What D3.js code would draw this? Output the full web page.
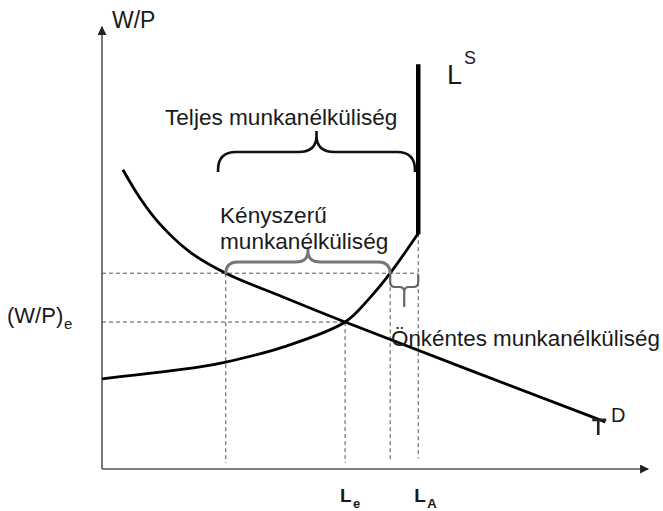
<!DOCTYPE html>
<html>
<head>
<meta charset="utf-8">
<script src="https://cdn.jsdelivr.net/npm/d3@7"></script>
<style>
  html, body { margin: 0; padding: 0; background: #fff; }
  svg { display: block; font-family: Arial, "Liberation Sans", sans-serif; }
</style>
</head>
<body>
<svg id="chart" width="663" height="511"></svg>
<script>
// Labour market: supply (L^S) and demand (L^D) for labour against the real wage W/P.
const supplyL = [0, 17.8, 22.5, 32.9, 44.2, 48.7, 52.4, 57.5];
const supplyW = [20.5, 23.2, 24.3, 27.7, 33.4, 38.9, 44.5, 53.6];
const supplyTopW = 92;          // vertical part of L^S at full labour force
const demandL = [3.8, 6.9, 10.5, 16.0, 22.5, 32.9, 44.2, 91.5];
const demandW = [68.0, 61.6, 55.7, 49.3, 44.5, 39.1, 33.4, 10.7];

const wageEq = 33.4;            // (W/P)e
const wageHigh = 44.5;          // wage above equilibrium
const Le = 44.2;                // equilibrium employment
const LA = 57.5;                // labour force
const Ldemand = 22.5;           // labour demanded at wageHigh
const Lsupply = 52.4;           // labour supplied at wageHigh
const bigBraceFrom = 21.1, bigBraceTo = 56.9;

const axisLabels = { y: "W/P", yEq: "(W/P)", yEqSub: "e", xEq: "L", xEqSub: "e", xA: "L", xASub: "A" };
const curveLabels = { supply: "L", supplySup: "S", demand: "D" };
const braceLabels = {
  total: "Teljes munkanélküliség",
  forced: ["Kényszerű", "munkanélküliség"],
  voluntary: "Önkéntes munkanélküliség"
};

const svg = d3.select("#chart");
const x = d3.scaleLinear().domain([0, 100]).range([102, 652]);
const y = d3.scaleLinear().domain([0, 100]).range([469, 29]);

// arrow heads
const defs = svg.append("defs");
defs.append("marker").attr("id", "arrow").attr("viewBox", "0 0 10 10")
  .attr("refX", 9).attr("refY", 5).attr("markerWidth", 9).attr("markerHeight", 9)
  .attr("markerUnits", "userSpaceOnUse").attr("orient", "auto")
  .append("path").attr("d", "M0,0 L10,5 L0,10 Z").attr("fill", "#222");

// axes
svg.append("line").attr("x1", x(0)).attr("y1", y(0)).attr("x2", x(0)).attr("y2", y(100.5))
  .attr("stroke", "#555").attr("stroke-width", 1.6).attr("marker-end", "url(#arrow)");
svg.append("line").attr("x1", x(0)).attr("y1", y(0)).attr("x2", x(99.3)).attr("y2", y(0))
  .attr("stroke", "#555").attr("stroke-width", 1.6).attr("marker-end", "url(#arrow)");

// dashed guide lines
const dashBottom = 1.4;
const guides = [
  [0, wageHigh, LA, wageHigh],
  [0, wageEq, Le, wageEq],
  [Ldemand, wageHigh, Ldemand, dashBottom],
  [Le, wageEq, Le, dashBottom],
  [Lsupply, wageHigh, Lsupply, 2.0],
  [LA, supplyW[supplyW.length - 1], LA, 2.4]
];
svg.append("g").selectAll("line").data(guides).join("line")
  .attr("x1", d => x(d[0])).attr("y1", d => y(d[1]))
  .attr("x2", d => x(d[2])).attr("y2", d => y(d[3]))
  .attr("stroke", "#555").attr("stroke-width", 1).attr("stroke-dasharray", "4,3");

// curves
const line = d3.line().x(d => x(d[0])).y(d => y(d[1])).curve(d3.curveCatmullRom.alpha(0.5));
svg.append("path").datum(supplyL.map((l, i) => [l, supplyW[i]]))
  .attr("d", line).attr("fill", "none").attr("stroke", "#000").attr("stroke-width", 2.8);
svg.append("line").attr("x1", x(LA)).attr("y1", y(supplyW[supplyW.length - 1]) + 1)
  .attr("x2", x(LA)).attr("y2", y(supplyTopW))
  .attr("stroke", "#000").attr("stroke-width", 4.5);
svg.append("path").datum(demandL.map((l, i) => [l, demandW[i]]))
  .attr("d", line).attr("fill", "none").attr("stroke", "#000").attr("stroke-width", 2.8);

// stem of the L^D label at the end of the demand curve
const dEndL = demandL[demandL.length - 1], dEndW = demandW[demandW.length - 1];
const tx = x(dEndL) - 7, ty = y(dEndW);
svg.append("path")
  .attr("d", `M${tx},${ty - 3} L${tx},${ty + 13} M${tx - 6},${ty - 2} L${x(dEndL) + 1},${ty - 2}`)
  .attr("stroke", "#222").attr("stroke-width", 2.6).attr("fill", "none");

// curly brace: tips at tipY, bar at barY, point at peakY
function brace(x1, x2, tipY, barY, peakY, r) {
  const xm = (x1 + x2) / 2;
  const s = Math.sign(barY - tipY);
  const t = Math.sign(peakY - barY);
  return `M${x1},${tipY} L${x1},${barY - s * r} Q${x1},${barY} ${x1 + r},${barY}` +
    ` L${xm - r},${barY} Q${xm},${barY} ${xm},${barY + t * r * 0.9} L${xm},${peakY}` +
    ` M${xm},${barY + t * r * 0.9} Q${xm},${barY} ${xm + r},${barY}` +
    ` L${x2 - r},${barY} Q${x2},${barY} ${x2},${barY - s * r} L${x2},${tipY}`;
}

svg.append("path")
  .attr("d", brace(x(bigBraceFrom), x(bigBraceTo), 172, 152, 131, 18))
  .attr("fill", "none").attr("stroke", "#111").attr("stroke-width", 2.6);
svg.append("path")
  .attr("d", brace(x(Ldemand), x(Lsupply), y(wageHigh) + 1, 262, 248, 12))
  .attr("fill", "none").attr("stroke", "#777").attr("stroke-width", 3);
svg.append("path")
  .attr("d", brace(x(Lsupply), x(LA), y(wageHigh) + 1, 287, 307, 5))
  .attr("fill", "none").attr("stroke", "#666").attr("stroke-width", 2.2);

// texts
const txt = (xx, yy, s, size, opts = {}) => svg.append("text")
  .attr("x", xx).attr("y", yy).attr("font-size", size)
  .attr("font-weight", opts.bold ? "bold" : "normal")
  .attr("fill", opts.fill || "#1a1a1a").text(s);

txt(112, 28, axisLabels.y, 23);
txt(7, 323, axisLabels.yEq, 22);
txt(64, 329, axisLabels.yEqSub, 15);
txt(x(Le) - 5, 502, axisLabels.xEq, 19, { bold: true });
txt(x(Le) + 8, 508, axisLabels.xEqSub, 13, { bold: true });
txt(x(LA) - 4, 502, axisLabels.xA, 19, { bold: true });
txt(x(LA) + 9, 508, axisLabels.xASub, 13, { bold: true });

txt(447, 84, curveLabels.supply, 27);
txt(464, 64, curveLabels.supplySup, 18);
txt(611, 422, curveLabels.demand, 20);

txt(165, 125, braceLabels.total, 22.6);
txt(220, 223, braceLabels.forced[0], 22.6);
txt(220, 249, braceLabels.forced[1], 22.6);
txt(391, 346, braceLabels.voluntary, 22.4);
</script>
</body>
</html>
